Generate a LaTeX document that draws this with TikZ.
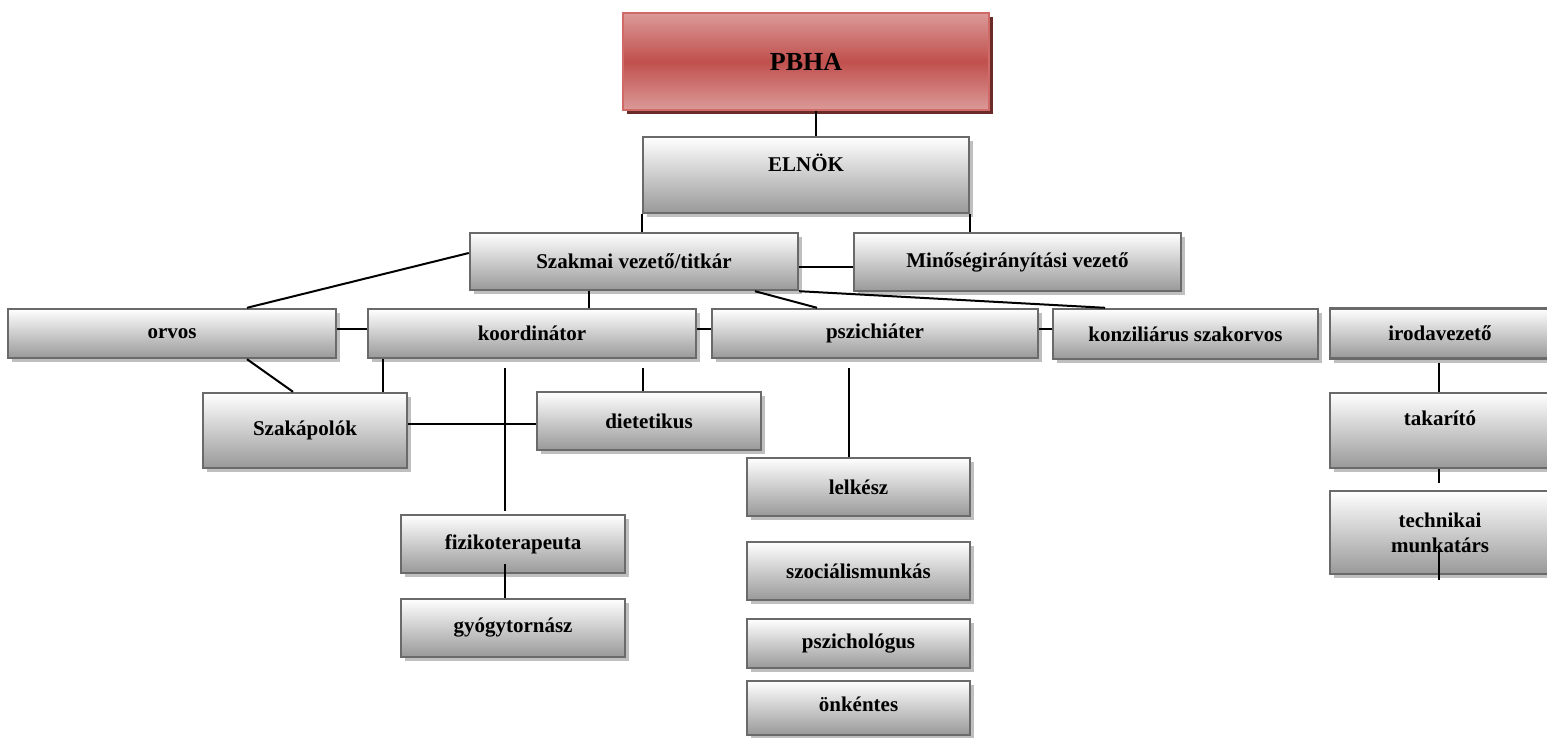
\documentclass[tikz,border=0pt]{standalone}
\usepackage{fontspec}
\setmainfont{Liberation Serif}
\usetikzlibrary{shadows,calc}

\definecolor{boxline}{HTML}{6A6A6A}
\definecolor{boxlow}{HTML}{999999}
\definecolor{redline}{HTML}{CF6A67}
\definecolor{redmid}{HTML}{C0504D}
\definecolor{redlight}{HTML}{DB9A98}
\definecolor{redshadow}{HTML}{6A2A28}

\tikzset{
    unit/.style={draw=boxline, line width=1.2pt, top color=white, bottom color=boxlow,
        general shadow={fill=black!25, shadow xshift=2pt, shadow yshift=-2pt},
        font=\fontsize{10.5}{12.5}\selectfont\bfseries, align=center, inner sep=1pt},
    headunit/.style={draw=redline, line width=1.2pt, top color=redlight, bottom color=redlight,
        middle color=redmid,
        general shadow={fill=redshadow, shadow xshift=2.2pt, shadow yshift=-2.2pt},
        font=\fontsize{13}{15}\selectfont\bfseries, inner sep=1pt},
    raised/.style={text depth=12pt},
    link/.style={line width=1pt, black}
}

\begin{document}
\begin{tikzpicture}[x=0.5pt, y=-0.5pt]
    \useasboundingbox (0,0) rectangle (1547,738);

    % Top of the chart
    \node[headunit, minimum width=183pt, minimum height=48.5pt] (pbha) at (806,61.5) {PBHA};
    \node[unit, raised, minimum width=163pt, minimum height=38pt] (elnok) at (806,175) {ELNÖK};
    \node[unit, minimum width=164pt, minimum height=28.5pt] (szakmai) at (634,261.5) {Szakmai vezető/titkár};
    \node[unit, minimum width=163.5pt, minimum height=29pt] (minoseg) at (1017.5,262) {Minőségirányítási vezető};

    % Second row
    \node[unit, minimum width=164pt, minimum height=24.5pt] (orvos) at (172,333.5) {orvos};
    \node[unit, minimum width=164pt, minimum height=24.5pt] (koord) at (532,333.5) {koordinátor};
    \node[unit, minimum width=163pt, minimum height=24.5pt] (pszich) at (875,333.5) {pszichiáter};
    \node[unit, minimum width=132.5pt, minimum height=25pt] (konzil) at (1185.5,334) {konziliárus szakorvos};
    \node[unit, minimum width=110pt, minimum height=25pt] (iroda) at (1440,333.5) {irodavezető};

    % Lower boxes
    \node[unit, minimum width=102pt, minimum height=37.5pt] (szakap) at (305,430.5) {Szakápolók};
    \node[unit, minimum width=112pt, minimum height=29pt] (dietet) at (649,421) {dietetikus};
    \node[unit, minimum width=112pt, minimum height=29pt] (fiziko) at (513,544) {fizikoterapeuta};
    \node[unit, minimum width=112pt, minimum height=29pt] (gyogy) at (513,628) {gyógytornász};
    \node[unit, minimum width=111.5pt, minimum height=29pt] (lelkesz) at (858.5,487) {lelkész};
    \node[unit, minimum width=111.5pt, minimum height=29pt] (szoc) at (858.5,571) {szociálismunkás};
    \node[unit, minimum width=111.5pt, minimum height=24.5pt] (pszichol) at (858.5,643.5) {pszichológus};
    \node[unit, minimum width=111.5pt, minimum height=27pt, text depth=4pt] (onkent) at (858.5,708) {önkéntes};
    \node[unit, raised, minimum width=110pt, minimum height=37.5pt] (takarito) at (1440,430.5) {takarító};
    \node[unit, minimum width=110pt, minimum height=41.5pt] (techn) at (1440,532.5) {technikai\\munkatárs};
    \coordinate (techend) at (1439,580);

    % Connections
    \draw[link] ([xshift=5pt]pbha.south) -- ([xshift=5pt]elnok.north);
    \draw[link] (elnok.south west) -- (elnok.south west |- szakmai.north);
    \draw[link] (elnok.south east) -- (elnok.south east |- minoseg.north);
    \draw[link] ([yshift=-2.5pt]szakmai.east) -- ([yshift=-2.5pt]szakmai.east -| minoseg.west);
    \draw[link] ([yshift=4.25pt]szakmai.west) -- (orvos.north -| 247,0);
    \draw[link] (orvos.south -| 247,0) -- (szakap.north -| 293,0);
    \draw[link] ([yshift=2.25pt]orvos.east) -- ([yshift=2.25pt]koord.west);
    \draw[link] (szakmai.south -| 589,0) -- (koord.north -| 589,0);
    \draw[link] (szakmai.south -| 755,0) -- (pszich.north -| 817,0);
    \draw[link] (szakmai.south east) -- (konzil.north -| 1105,0);
    \draw[link] ([yshift=2.25pt]koord.east) -- ([yshift=2.25pt]pszich.west);
    \draw[link] ([yshift=2.25pt]pszich.east) -- ([yshift=2.25pt]pszich.east -| konzil.west);
    \draw[link] (koord.south -| 383,0) -- (szakap.north -| 383,0);
    \draw[link, shorten <=4.5pt, shorten >=1.5pt] (koord.south -| 505,0) -- (fiziko.north -| 505,0);
    \draw[link] (szakap.east |- 0,424) -- (dietet.west |- 0,424);
    \draw[link, shorten <=4.5pt] (koord.south -| 643,0) -- (dietet.north -| 643,0);
    \draw[link, shorten <=4.5pt] (pszich.south -| 849,0) -- (lelkesz.north -| 849,0);
    \draw[link, shorten <=-5pt] (fiziko.south -| 505,0) -- (gyogy.north -| 505,0);
    \draw[link, shorten <=1.5pt] (iroda.south -| 1439,0) -- (takarito.north -| 1439,0);
    \draw[link, shorten >=3.5pt] (takarito.south -| 1439,0) -- (techn.north -| 1439,0);
    \draw[link, shorten <=-12.5pt] (techn.south -| 1439,0) -- (techend);

\end{tikzpicture}
\end{document}
